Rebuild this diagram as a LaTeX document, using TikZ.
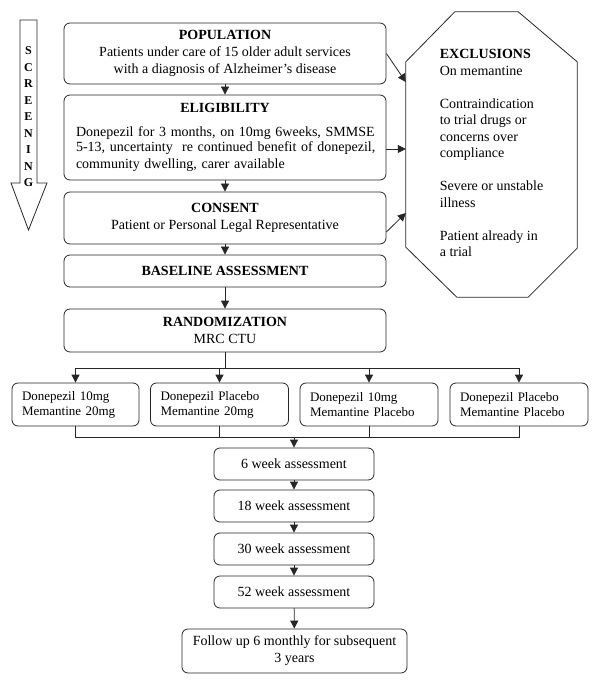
\documentclass[tikz,border=0pt]{standalone}
\usepackage{fontspec}
\setmainfont{Liberation Serif}
\usetikzlibrary{arrows.meta}
\tikzset{
  >={Triangle[length=8pt,width=8pt]},
  box/.style={rounded corners=6pt, draw=black!85, line width=0.8pt,
              minimum width=322pt, align=center, inner sep=0pt,
              font=\fontsize{14}{17}\selectfont},
  arm/.style={rounded corners=6pt, draw=black!85, line width=0.8pt,
              minimum width=138pt, minimum height=43pt, text width=118pt,
              align=left, inner sep=0pt, font=\fontsize{13}{15}\selectfont},
  visit/.style={rounded corners=6pt, draw=black!85, line width=0.8pt,
              minimum width=160pt, minimum height=32pt, align=center,
              inner sep=0pt, font=\fontsize{14}{17}\selectfont},
  excl/.style={minimum width=171pt, minimum height=285pt, inner sep=0pt,
              font=\fontsize{14}{16.5}\selectfont},
  flow/.style={->, draw=black!85, line width=0.8pt},
  line/.style={draw=black!85, line width=0.8pt},
}
\begin{document}
\begin{tikzpicture}[x=1pt,y=-1pt]
  \useasboundingbox (0,0) rectangle (600,684);
  % screening arrow
  \draw[line] (20,20)--(37,20)--(37,183)--(47,183)--(28.5,230)--(11,183)--(20,183)--cycle;
  \node[font=\fontsize{12}{16.5}\selectfont\bfseries, align=center, inner sep=0pt]
       (scr) at (28.5,117) {S\\C\\R\\E\\E\\N\\I\\N\\G};
  % screening stages
  \node[box, minimum height=61pt] (pop) at (225,53.5)
       {\textbf{POPULATION}\\Patients under care of 15 older adult services\\
        with a diagnosis of Alzheimer's disease};
  \node[box, minimum height=85pt, text width=314pt, align=left] (elig) at (225,137.5)
       {\makebox[\linewidth]{\textbf{ELIGIBILITY}}\\[9pt]
        \fontsize{14}{15}\selectfont
        \hspace*{8pt}Donepezil for 3 months, on 10mg 6weeks, SMMSE\\
        \hspace*{8pt}5-13, uncertainty\ \ re continued benefit of donepezil,\\
        \hspace*{8pt}community dwelling, carer available};
  \node[box, minimum height=52pt] (cons) at (225,218)
       {\textbf{CONSENT}\\Patient or Personal Legal Representative};
  \node[box, minimum height=32pt] (base) at (225,271) {\textbf{BASELINE ASSESSMENT}};
  \node[box, minimum height=43pt] (rand) at (225,330.5) {\textbf{RANDOMIZATION}\\MRC CTU};
  % exclusions
  \node[excl] (ex) at (491.5,154.5)
       {\raisebox{6pt}{\begin{tabular}{@{}l@{}}
        \textbf{EXCLUSIONS}\\On memantine\\[16.5pt]
        Contraindication\\to trial drugs or\\concerns over\\compliance\\[16.5pt]
        Severe or unstable\\illness\\[16.5pt]
        Patient already in\\a trial\end{tabular}}};
  \draw[line] ([xshift=49pt]ex.north west) -- ([xshift=-59pt]ex.north east)
       -- ([yshift=-50pt]ex.north east) -- ([yshift=49pt]ex.south east)
       -- ([xshift=-49pt]ex.south east) -- ([xshift=51pt]ex.south west)
       -- ([yshift=50pt]ex.south west) -- ([yshift=-50pt]ex.north west) -- cycle;
  \draw[flow] (pop.east) -- ([yshift=72.5pt]ex.west);
  \draw[flow] ([yshift=-11.5pt]elig.east) -- ([yshift=5.5pt]ex.west);
  \draw[flow] ([yshift=-14pt]cons.east) -- ([yshift=-58.5pt]ex.west);
  \draw[flow] (pop) -- (elig);
  \draw[flow] (elig) -- (cons);
  \draw[flow] (cons) -- (base);
  \draw[flow] (base) -- (rand);
  % four arms
  \node[arm, minimum width=127pt, text width=107pt] (a1) at (75.5,404.5)
       {Donepezil 10mg\\Memantine 20mg};
  \node[arm] (a2) at (219.5,404.5) {Donepezil Placebo\\Memantine 20mg};
  \node[arm] (a3) at (369,404.5) {Donepezil 10mg\\Memantine Placebo};
  \node[arm] (a4) at (519,404.5) {Donepezil Placebo\\Memantine Placebo};
  \coordinate (split) at (225,368);
  \coordinate (join) at (294,437);
  \draw[line] (rand) -- (split);
  \foreach \a in {a1,a2,a3,a4}{
    \draw[flow] (split) -| (\a.north);
    \draw[line] (\a.south) |- (join);}
  % follow-up visits
  \node[visit] (w6) at (294,464) {6 week assessment};
  \node[visit] (w18) at (294,506) {18 week assessment};
  \node[visit] (w30) at (294,549) {30 week assessment};
  \node[visit] (w52) at (294,592) {52 week assessment};
  \node[visit, minimum width=225pt, minimum height=44pt] (fu) at (294.5,651)
       {Follow up 6 monthly for subsequent\\3 years};
  \draw[flow] (join) -- (w6);
  \draw[flow] (w6) -- (w18);
  \draw[flow] (w18) -- (w30);
  \draw[flow] (w30) -- (w52);
  \draw[flow] (w52) -- (fu);
\end{tikzpicture}
\end{document}
